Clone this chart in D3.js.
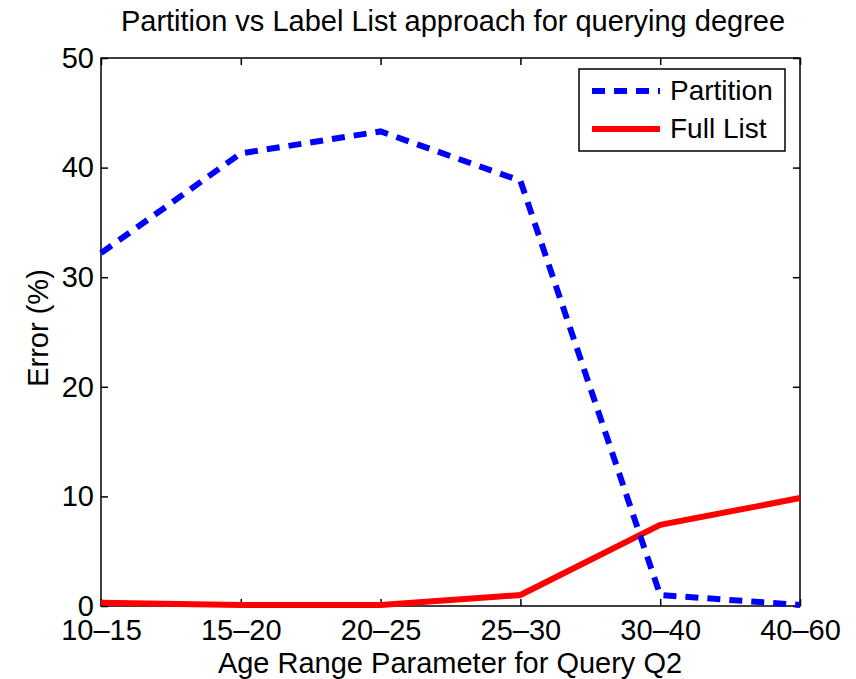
<!DOCTYPE html>
<html>
<head>
<meta charset="utf-8">
<script src="https://cdn.jsdelivr.net/npm/d3@7"></script>
<style>
  body { margin: 0; background: #fff; }
  text { font-family: "Liberation Sans", Arial, sans-serif; fill: #000; }
</style>
</head>
<body>
<div id="chart"></div>
<script>
(function() {

    var width = 856,
    height = 679;

    var categories = ["10\u201315", "15\u201320", "20\u201325", "25\u201330", "30\u201340", "40\u201360"]
    var partition = [32.2, 41.3, 43.3, 38.8, 1.0, 0.1]
    var fullList = [0.3, 0.1, 0.1, 1.0, 7.4, 9.85]
    var yTicks = [0, 10, 20, 30, 40, 50]

    var margin = {top: 58, right: 56, bottom: 73, left: 101}

    var svg = d3.select("#chart")
    .append("svg")
    .attr("width", width)
    .attr("height", height)

    var x = d3.scalePoint().domain(categories).range([margin.left, width - margin.right])
    var y = d3.scaleLinear().domain([0, 50]).range([height - margin.bottom, margin.top])

    var g = svg.append("g")

    // box round the plot
    g.append("rect")
    .attr("x", margin.left)
    .attr("y", margin.top)
    .attr("width", width - margin.right - margin.left)
    .attr("height", height - margin.bottom - margin.top)
    .attr("fill", "none")
    .attr("stroke", "#000")
    .attr("stroke-width", 1.5)

    // axes, ticks pointing inward
    var xAxis = g.append("g")
    .attr("transform", "translate(0," + y(0) + ")")
    .call(d3.axisBottom(x).tickSizeInner(-7).tickSizeOuter(0).tickPadding(13))
    g.append("g")
    .attr("transform", "translate(0," + y(50) + ")")
    .call(d3.axisTop(x).tickSizeInner(-7).tickSizeOuter(0).tickFormat(""))
    var yAxis = g.append("g")
    .attr("transform", "translate(" + margin.left + ",0)")
    .call(d3.axisLeft(y).tickValues(yTicks).tickSizeInner(-7).tickSizeOuter(0).tickPadding(7))
    g.append("g")
    .attr("transform", "translate(" + (width - margin.right) + ",0)")
    .call(d3.axisRight(y).tickValues(yTicks).tickSizeInner(-7).tickSizeOuter(0).tickFormat(""))

    g.selectAll(".domain").remove()
    g.selectAll(".tick line").attr("stroke", "#000").attr("stroke-width", 1.5)
    xAxis.selectAll("text").style("font-size", "29px").style("font-family", "Liberation Sans, Arial, sans-serif")
    yAxis.selectAll("text").style("font-size", "29px").style("font-family", "Liberation Sans, Arial, sans-serif")

    var line = d3.line()
    .x(function(d, i) { return x(categories[i]) })
    .y(function(d) { return y(d) })

    g.append("path")
    .datum(fullList)
    .attr("d", line)
    .attr("fill", "none")
    .attr("stroke", "#ff0000")
    .attr("stroke-width", 6)

    g.append("path")
    .datum(partition)
    .attr("d", line)
    .attr("fill", "none")
    .attr("stroke", "#0000ff")
    .attr("stroke-width", 6)
    .attr("stroke-dasharray", "13,9")

    // legend
    var legend = svg.append("g").attr("transform", "translate(579,69)")
    legend.append("rect")
    .attr("width", 206)
    .attr("height", 82)
    .attr("fill", "#fff")
    .attr("stroke", "#000")
    .attr("stroke-width", 1.5)

    var series = [
        {name: "Partition", color: "#0000ff", dash: "13,9"},
        {name: "Full List", color: "#ff0000", dash: null}
    ]
    series.forEach(function(s, i) {
        var yy = 22 + i * 38
        legend.append("line")
        .attr("x1", 13).attr("x2", 81)
        .attr("y1", yy).attr("y2", yy)
        .attr("stroke", s.color)
        .attr("stroke-width", 6)
        .attr("stroke-dasharray", s.dash)
        legend.append("text")
        .attr("x", 91).attr("y", yy + 9)
        .style("font-size", "28px")
        .text(s.name)
    })

    // titles
    svg.append("text")
    .attr("x", 453)
    .attr("y", 31)
    .attr("text-anchor", "middle")
    .style("font-size", "29px")
    .text("Partition vs Label List approach for querying degree")

    svg.append("text")
    .attr("x", 450)
    .attr("y", 673)
    .attr("text-anchor", "middle")
    .style("font-size", "29px")
    .text("Age Range Parameter for Query Q2")

    svg.append("text")
    .attr("transform", "translate(48,328) rotate(-90)")
    .attr("text-anchor", "middle")
    .style("font-size", "29px")
    .text("Error (%)")

})();
</script>
</body>
</html>
